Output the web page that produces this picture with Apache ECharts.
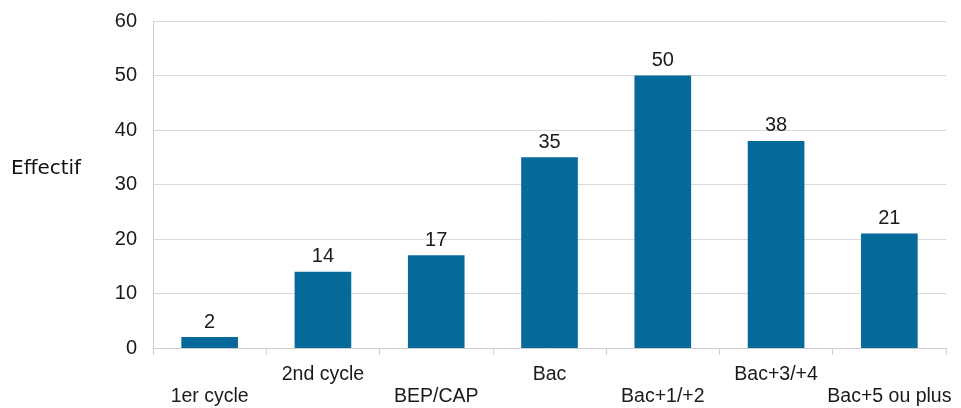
<!DOCTYPE html>
<html><head><meta charset="utf-8">
<script src="https://cdn.jsdelivr.net/npm/echarts@6/dist/echarts.min.js"></script>
<style>html,body{margin:0;padding:0;background:#fff}#c{width:961px;height:408px}</style>
</head><body><div id="c"></div>
<script>
const categories = ['1er cycle','2nd cycle','BEP/CAP','Bac','Bac+1/+2','Bac+3/+4','Bac+5 ou plus'];
const values = [2,14,17,35,50,38,21];
const yTicks = [0,10,20,30,40,50,60];
const yTitle = 'Effectif';

const chart = echarts.init(document.getElementById('c'));
chart.setOption({
  animation:false,
  grid:{left:153,right:15,top:21,bottom:60,containLabel:false},
  graphic:[{type:'text',x:11,y:169,style:{text:yTitle,font:'20px "DejaVu Sans"',fill:'#111',textVerticalAlign:'middle'}}],
  xAxis:{type:'category',data:categories,
    axisLine:{lineStyle:{color:'#cfcfcf'}},
    axisTick:{show:true,length:7,alignWithLabel:false,lineStyle:{color:'#cfcfcf'}},
    axisLabel:{interval:0,margin:16,color:'#1a1a1a',fontFamily:'Liberation Sans',fontSize:19.5,lineHeight:22,
      formatter:(v,i)=> i%2===0 ? '\n'+v : v}},
  yAxis:{type:'value',min:yTicks[0],max:yTicks[yTicks.length-1],interval:10,
    axisLine:{show:true,lineStyle:{color:'#cfcfcf'}},
    axisTick:{show:false},
    splitLine:{lineStyle:{color:'#d9d9d9'}},
    axisLabel:{margin:16,color:'#1a1a1a',fontFamily:'Liberation Sans',fontSize:20}},
  series:[{type:'bar',data:values,barWidth:'50%',itemStyle:{color:'#05699a'},
    label:{show:true,position:'top',distance:5,color:'#1a1a1a',fontFamily:'Liberation Sans',fontSize:20}}]
});
</script></body></html>
